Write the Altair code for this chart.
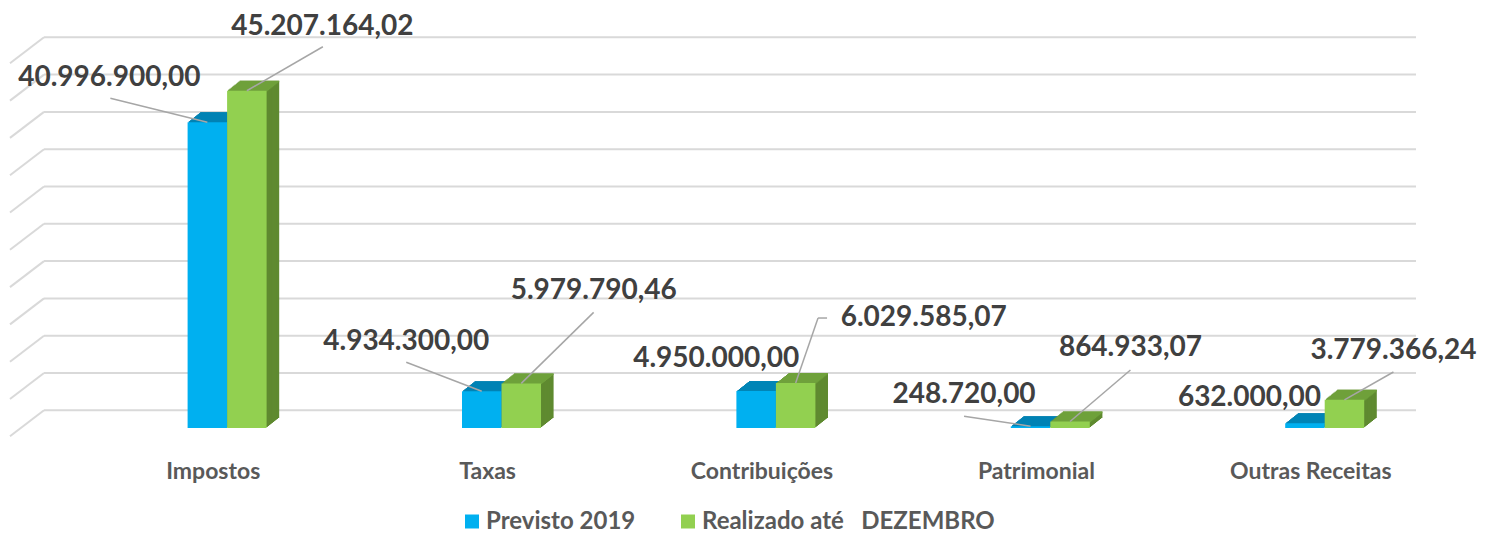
import altair as alt
import pandas as pd

# ---------------- data ----------------
categories = ["Impostos", "Taxas", "Contribuições", "Patrimonial", "Outras Receitas"]
series_names = ["Previsto 2019", "Realizado até\u00a0\u00a0 DEZEMBRO"]
previsto = [40996900.00, 4934300.00, 4950000.00, 248720.00, 632000.00]
realizado = [45207164.02, 5979790.46, 6029585.07, 864933.07, 3779366.24]
grid_values = [0, 5e6, 10e6, 15e6, 20e6, 25e6, 30e6, 35e6, 40e6, 45e6, 50e6]


def br(v):
    s = f"{v:,.2f}"
    return s.replace(",", "X").replace(".", ",").replace("X", ".")


rows = []
for s_i, (name, vals) in enumerate(zip(series_names, [previsto, realizado])):
    for c, v in zip(categories, vals):
        rows.append({"cat": c, "series": name, "sidx": s_i, "value": v, "label": br(v)})
df = pd.DataFrame(rows)
grid_df = pd.DataFrame({"v": grid_values})

# ---------------- styles / layout ----------------
W, H = 1372, 420
BW = 39.5
CENTER = [26.15, 65.65]            # bar centre offset from band centre (px)
FRONT = ["#00b0f0", "#92d050"]
TOP = ["#0085b6", "#6fa13b"]
SIDE = ["#006e99", "#5f8a30"]
NSTEP, DX, DY = 10, 1.26, 1.0      # 3-D depth
GRID_SHIFT = -17.7                  # back wall offset
LEADER = "#a6a6a6"

# label offsets (centre x, baseline) relative to bar top centre
LBL = [
    [(-98, -36), (-75.5, -41), (-40, -24), (-66.5, -23), (-55.5, -17)],
    [(75.5, -56), (72.4, -84), (128, -57), (60.4, -65.5), (49, -41)],
]
# leader line polylines relative to bar top centre
LEAD = [
    [[(-97, -24)], [(-75.5, -29)], None, [(-66.5, -10)], None],
    [[(76, -44)], [(72.4, -71)], [(22.4, -65), (31.4, -65)], [(60.4, -51.5)], [(49, -27.8)]],
]

xscale = alt.Scale(domain=categories, paddingInner=0, paddingOuter=0)
yscale = alt.Scale(domain=[0, 56.3e6], nice=False, zero=True)
xaxis = alt.Axis(title=None, domain=False, ticks=False, tickSize=0, grid=False,
                 labelFont="Lato", labelFontSize=23, labelFontWeight="bold",
                 labelColor="#595959", labelOffset=32, labelPadding=50,
                 labelBaseline="alphabetic", labelAngle=0)


def X():
    return alt.X("cat:N", sort=categories, scale=xscale, axis=xaxis)


def Y(f="value"):
    return alt.Y(f"{f}:Q", scale=yscale, axis=None)


base = alt.Chart(df)
layers = []

# grid (back wall) and floor edges
grid = alt.Chart(grid_df)
layers.append(grid.mark_rule(color="#d9d9d9", strokeWidth=2, yOffset=GRID_SHIFT).encode(
    y=alt.Y("v:Q", scale=yscale, axis=None)))
layers.append(grid.mark_rule(color="#d9d9d9", strokeWidth=2, yOffset=GRID_SHIFT,
                             y2Offset=GRID_SHIFT + 26).encode(
    y=alt.Y("v:Q", scale=yscale, axis=None), y2="v:Q",
    x=alt.value(0), x2=alt.value(-34)))

for s in range(2):
    sub = base.transform_filter(alt.datum.sidx == s)
    c = CENTER[s]
    for k in range(NSTEP, 0, -1):
        layers.append(sub.mark_bar(color=SIDE[s], width=BW, xOffset=c + k * DX,
                                   yOffset=-k * DY, y2Offset=-k * DY).encode(x=X(), y=Y()))
    for k in range(NSTEP, 0, -1):
        layers.append(sub.mark_bar(color=TOP[s], width=BW, xOffset=c + k * DX,
                                   yOffset=-k * DY, y2Offset=-k * DY + 1.6).encode(
            x=X(), y=Y(), y2="value:Q"))
    layers.append(sub.mark_bar(width=BW, xOffset=c).encode(
        x=X(), y=Y(),
        color=alt.Color("series:N", sort=series_names,
                        scale=alt.Scale(domain=series_names, range=FRONT),
                        legend=alt.Legend(orient="none", legendX=416, legendY=501.5,
                                          direction="horizontal", title=None,
                                          symbolType="square", symbolSize=196,
                                          symbolStrokeWidth=0, labelFont="Lato",
                                          labelFontSize=24, labelFontWeight="bold",
                                          labelColor="#595959", labelOffset=2,
                                          columnPadding=40, padding=0, labelLimit=0))))

# leader lines
for s in range(2):
    c = CENTER[s]
    for ci, cat in enumerate(categories):
        pts = LEAD[s][ci]
        if not pts:
            continue
        sub = base.transform_filter((alt.datum.sidx == s) & (alt.datum.cat == cat))
        prev = (0, 0)
        for p in pts:
            layers.append(sub.mark_rule(color=LEADER, strokeWidth=1.5,
                                        xOffset=c + prev[0], x2Offset=c + p[0],
                                        yOffset=prev[1], y2Offset=p[1]).encode(
                x=X(), x2="cat:N", y=Y(), y2="value:Q"))
            prev = p

# value labels
for s in range(2):
    c = CENTER[s]
    for ci, cat in enumerate(categories):
        dx, dy = LBL[s][ci]
        sub = base.transform_filter((alt.datum.sidx == s) & (alt.datum.cat == cat))
        layers.append(sub.mark_text(dx=c + dx, dy=dy, align="center", baseline="alphabetic",
                                    font="Lato", fontSize=28, fontWeight="bold",
                                    color="#404040").encode(x=X(), y=Y(), text="label:N"))

chart = alt.layer(*layers).properties(
    width=W, height=H,
    autosize=alt.AutoSizeParams(type="none"),
    padding={"left": 36, "right": 63, "top": 0, "bottom": 104},
).configure_view(strokeWidth=0)

chart.save("out.html", embed_options={"renderer": "svg", "actions": False})
